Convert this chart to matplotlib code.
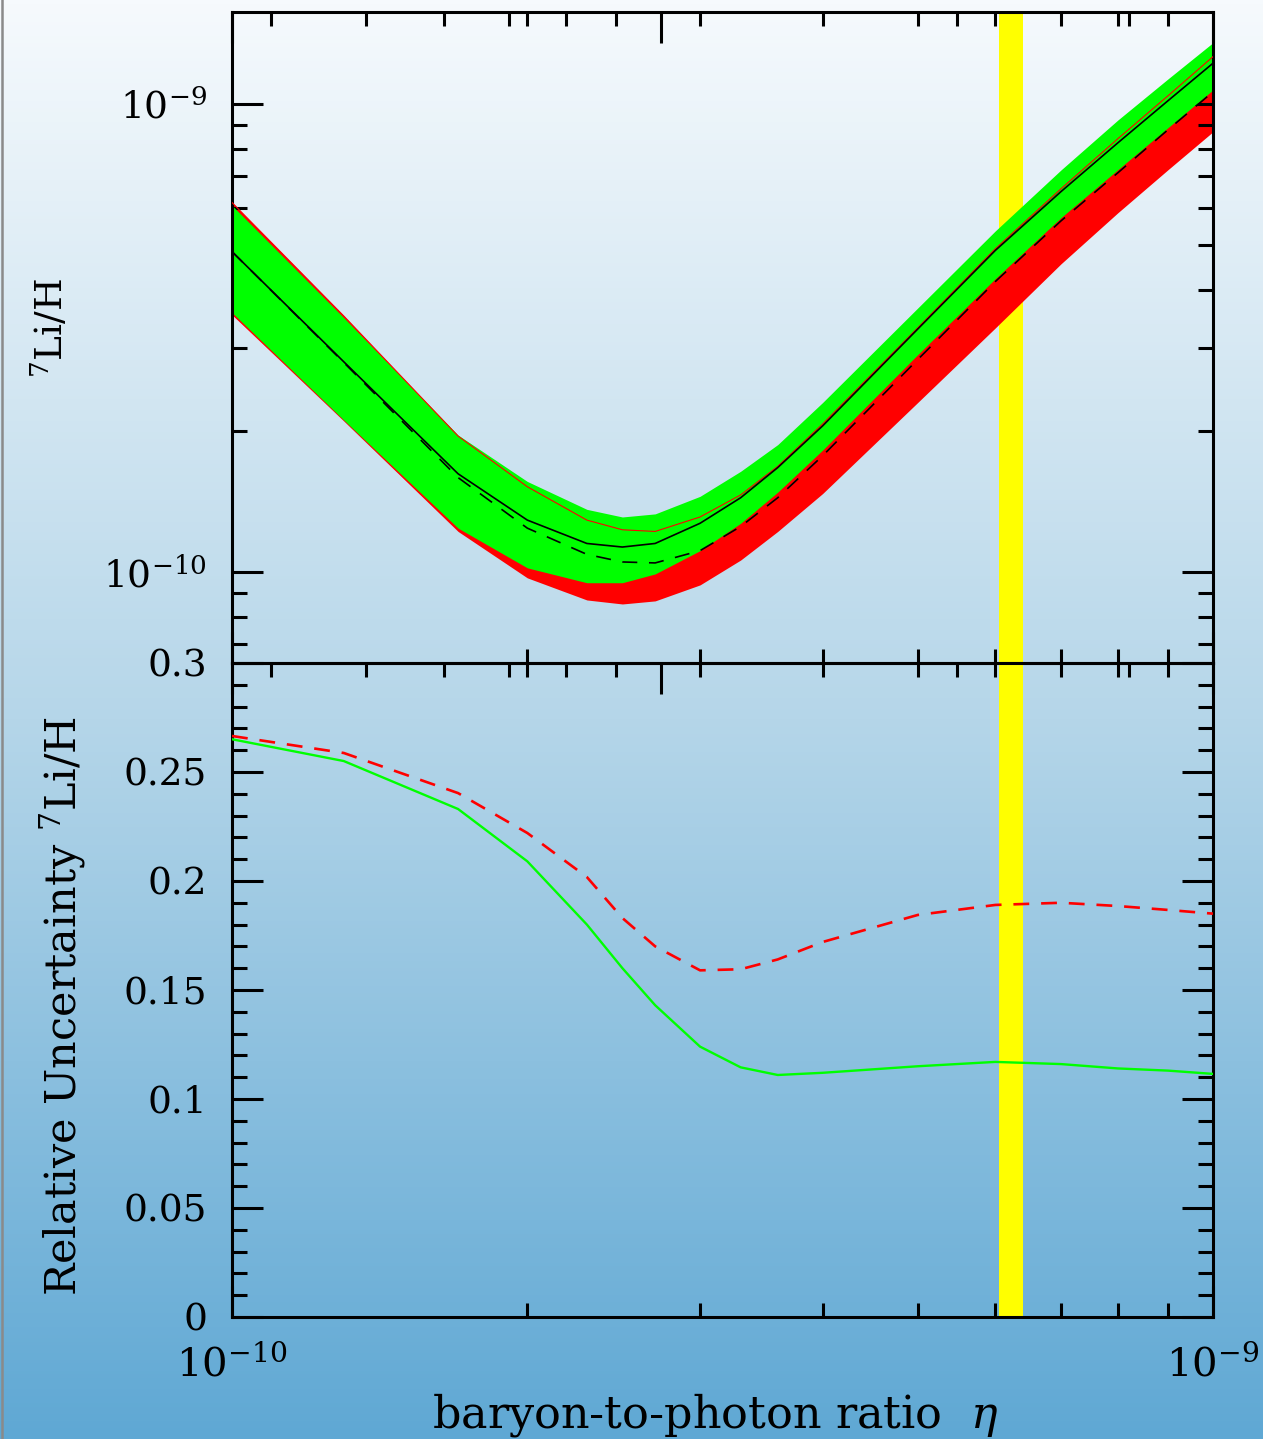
import numpy as np
import matplotlib
matplotlib.use('Agg')
import matplotlib.pyplot as plt
from matplotlib.ticker import FixedLocator, NullFormatter, MultipleLocator
from matplotlib.lines import Line2D

plt.rcParams['font.family'] = ['DejaVu Serif']
plt.rcParams['mathtext.fontset'] = 'custom'
plt.rcParams['mathtext.rm'] = 'Liberation Serif'
plt.rcParams['mathtext.it'] = 'Liberation Serif:italic'
plt.rcParams['mathtext.default'] = 'regular'

# baryon-to-photon ratio grid (units of 1e-10)
eta10 = [1.0, 1.3, 1.7, 2.0, 2.3, 2.5, 2.7, 3.0, 3.3, 3.6, 4.0, 5.0, 6.0, 7.0, 8.0, 9.0, 10.0]

# 7Li/H (units of 1e-10)
li_green_hi = [6.06, 3.49, 1.96, 1.56, 1.36, 1.31, 1.33, 1.45, 1.64, 1.87, 2.30, 3.66, 5.35, 7.22, 9.23, 11.3, 13.5]
li_green_lo = [3.58, 2.11, 1.24, 1.02, 0.948, 0.948, 0.99, 1.11, 1.27, 1.48, 1.82, 2.91, 4.23, 5.71, 7.23, 8.89, 10.7]
li_red_hi = [6.15, 3.52, 1.95, 1.52, 1.29, 1.23, 1.22, 1.31, 1.46, 1.68, 2.07, 3.32, 4.90, 6.58, 8.42, 10.4, 12.6]
li_red_lo = [3.54, 2.10, 1.22, 0.971, 0.871, 0.854, 0.867, 0.938, 1.06, 1.22, 1.47, 2.30, 3.32, 4.55, 5.85, 7.23, 8.71]
li_solid = [4.83, 2.81, 1.62, 1.29, 1.15, 1.13, 1.15, 1.27, 1.44, 1.67, 2.05, 3.30, 4.86, 6.49, 8.25, 10.15, 12.2]
li_dashed = [4.83, 2.80, 1.59, 1.24, 1.09, 1.05, 1.045, 1.11, 1.25, 1.44, 1.77, 2.84, 4.17, 5.62, 7.12, 8.80, 10.6]

# relative uncertainty of 7Li/H
unc_green = [0.265, 0.255, 0.233, 0.209, 0.180, 0.160, 0.143, 0.124, 0.1145, 0.111, 0.112, 0.115, 0.117, 0.116, 0.114, 0.113, 0.1115]
unc_red = [0.2665, 0.2587, 0.2403, 0.222, 0.2018, 0.183, 0.170, 0.159, 0.1595, 0.164, 0.172, 0.1844, 0.189, 0.190, 0.1885, 0.1867, 0.185]

# WMAP eta range
wmap_band = [6.05e-10, 6.40e-10]

# Omega_b h^2 ticks on the upper edges
omega_minor = [0.004, 0.005, 0.006, 0.007, 0.008, 0.009, 0.02, 0.03]
omega_major = [0.01]

eta = np.array(eta10) * 1e-10
scale = 1e-10

fig = plt.figure(figsize=(12.63, 14.39), dpi=100)

# background gradient
bg = fig.add_axes([0, 0, 1, 1], zorder=-10)
stops_y = [0.0, 0.5, 1.0]
stops_c = np.array([[246, 250, 253], [181, 214, 233], [95, 168, 212]]) / 255.0
yy = np.linspace(0, 1, 400)
grad = np.stack([np.interp(yy, stops_y, stops_c[:, k]) for k in range(3)], axis=-1)[:, None, :]
bg.imshow(grad, aspect='auto', extent=[0, 1, 0, 1], origin='upper')
bg.axis('off')
fig.add_artist(Line2D([0.0012, 0.0012], [0, 1], color='#8a8a8a', lw=1.8))

ax1 = fig.add_axes([0.1837, 0.5393, 0.7767, 0.4524], facecolor='none')
ax2 = fig.add_axes([0.1837, 0.0848, 0.7767, 0.4545], facecolor='none')

# top panel: abundance bands
ax1.axvspan(*wmap_band, color='#ffff00', lw=0, zorder=0)
ax1.fill_between(eta, np.array(li_red_lo) * scale, np.array(li_red_hi) * scale, color='#ff0000', lw=0, zorder=1)
ax1.fill_between(eta, np.array(li_green_lo) * scale, np.array(li_green_hi) * scale, color='#00ff00', lw=0, zorder=2)
ax1.plot(eta, np.array(li_red_hi) * scale, color='#ff0000', lw=0.8, zorder=3)
ax1.plot(eta, np.array(li_solid) * scale, color='black', lw=1.2, zorder=4)
ax1.plot(eta, np.array(li_dashed) * scale, color='black', lw=1.2, dashes=(9, 7), zorder=4)
ax1.set_xscale('log')
ax1.set_yscale('log')
ax1.set_xlim(1e-10, 1e-9)
ax1.set_ylim(6.39e-11, 1.57e-9)

# bottom panel: relative uncertainties
ax2.axvspan(*wmap_band, color='#ffff00', lw=0, zorder=0)
ax2.plot(eta, unc_green, color='#00ff00', lw=1.7, zorder=3)
ax2.plot(eta, unc_red, color='#ff0000', lw=1.9, dashes=(6, 4.5), zorder=3)
ax2.set_xscale('log')
ax2.set_xlim(1e-10, 1e-9)
ax2.set_ylim(0, 0.3)

eta_minor = [k * 1e-10 for k in range(2, 10)]
for ax in (ax1, ax2):
    for sp in ax.spines.values():
        sp.set_linewidth(2.2)
    ax.xaxis.set_major_locator(FixedLocator([1e-10, 1e-9]))
    ax.xaxis.set_minor_locator(FixedLocator(eta_minor))
    ax.xaxis.set_minor_formatter(NullFormatter())
    ax.tick_params(axis='x', which='both', direction='in', top=True, bottom=True, width=2.2)
    ax.tick_params(axis='x', which='minor', length=10)
    ax.tick_params(axis='x', which='major', length=22)
    ax.tick_params(axis='y', which='both', direction='in', left=True, right=True, width=2.2)
    ax.tick_params(axis='y', which='major', length=22, pad=18)
    ax.tick_params(axis='y', which='minor', length=11)
    # Omega_b h^2 scale ticks along the upper edge
    sec = ax.secondary_xaxis('top')
    sec.xaxis.set_major_locator(FixedLocator([o * 273.9e-10 for o in omega_major]))
    sec.xaxis.set_minor_locator(FixedLocator([o * 273.9e-10 for o in omega_minor]))
    sec.xaxis.set_major_formatter(NullFormatter())
    sec.xaxis.set_minor_formatter(NullFormatter())
    sec.tick_params(which='both', direction='in', width=2.2)
    sec.tick_params(which='major', length=22)
    sec.tick_params(which='minor', length=10)
    sec.spines['top'].set_visible(False)

ax1.set_xticklabels([])
ax1.yaxis.set_major_locator(FixedLocator([1e-10, 1e-9]))
ax1.yaxis.set_minor_locator(FixedLocator([7e-11, 8e-11, 9e-11] + [k * 1e-10 for k in range(2, 10)]))
ax1.yaxis.set_minor_formatter(NullFormatter())
ax1.set_yticklabels([r'$10^{-10}$', r'$10^{-9}$'], fontsize=27, math_fontfamily='dejavuserif')

ax2.yaxis.set_minor_locator(MultipleLocator(0.01))
ax2.set_yticks([0, 0.05, 0.1, 0.15, 0.2, 0.25, 0.3],
               ['0', '0.05', '0.1', '0.15', '0.2', '0.25', '0.3'], fontsize=27)
ax2.set_xticks([1e-10, 1e-9], [r'$10^{-10}$', r'$10^{-9}$'], fontsize=29)
ax2.tick_params(axis='x', which='major', pad=20)

fig.text(0.040, 0.772, r'$^{7}$Li/H', rotation=90, ha='center', va='center', fontsize=27,
         math_fontfamily='dejavuserif')
fig.text(0.050, 0.301, r'Relative Uncertainty $^{7}$Li/H', rotation=90, ha='center', va='center',
         fontsize=31, math_fontfamily='dejavuserif')
fig.text(0.566, 0.0167, r'baryon-to-photon ratio  $\mathit{\eta}$', ha='center', va='center',
         fontsize=32, math_fontfamily='dejavuserif')

fig.savefig('out.png', dpi=100)
